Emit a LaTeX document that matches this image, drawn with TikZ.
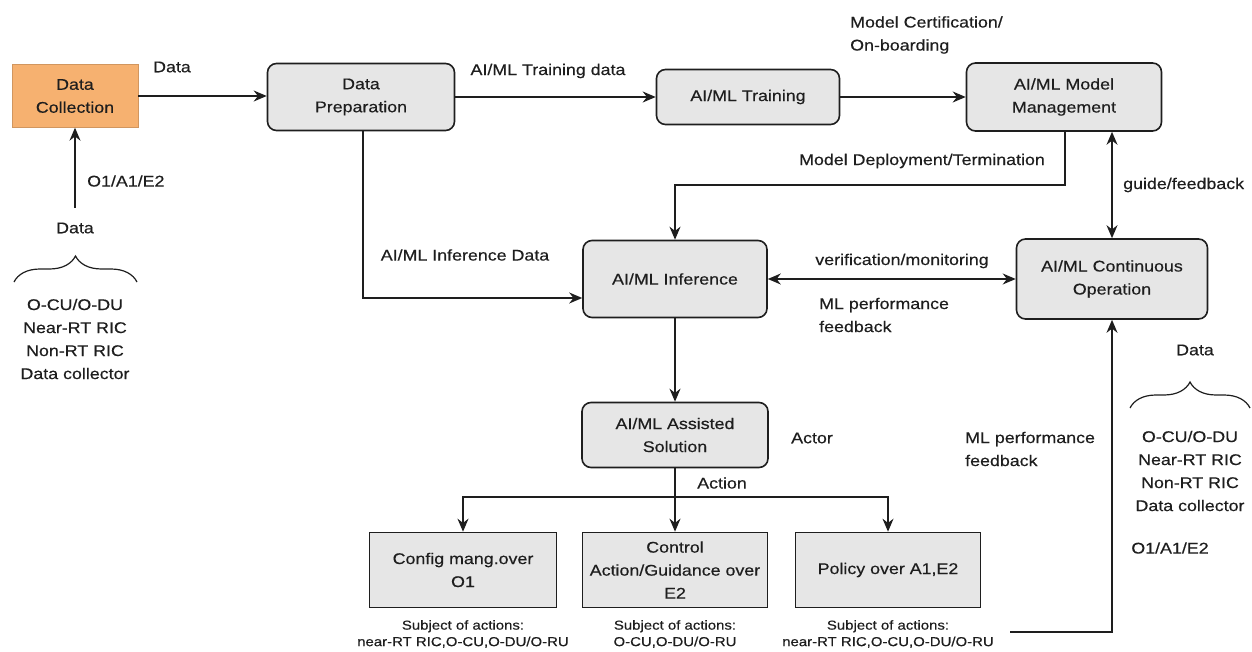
\documentclass[tikz,border=0pt]{standalone}
\usepackage{fontspec}
\setmainfont{Liberation Sans}[FakeStretch=1.15,FakeBold=0.4]
\usetikzlibrary{arrows.meta,decorations.pathreplacing}
\definecolor{ink}{HTML}{1E1E1E}
\definecolor{boxfill}{HTML}{E6E6E6}
\definecolor{orangefill}{HTML}{F6B170}
\begin{document}
\begin{tikzpicture}[x=1pt,y=-1pt,
  txt/.style={font=\fontsize{15.5}{23}\selectfont, text=ink},
  small/.style={font=\fontsize{13}{16.5}\selectfont, text=ink, align=center},
  rbox/.style={txt, draw=ink, line width=1.6pt, fill=boxfill, rounded corners=9pt,
     align=center, inner sep=0pt},
  sbox/.style={txt, draw=ink, line width=1.6pt, fill=boxfill, align=center, inner sep=0pt},
  arr/.style={draw=ink, line width=1.4pt, -{Stealth[length=13pt,width=11pt]}},
  biarr/.style={draw=ink, line width=1.4pt, {Stealth[length=13pt,width=11pt]}-{Stealth[length=13pt,width=11pt]}},
  line/.style={draw=ink, line width=1.4pt},
  lbl/.style={txt, inner sep=0pt},
  brc/.style={draw=ink, line width=1.2pt, decorate, decoration={brace, amplitude=26pt}}
]
\useasboundingbox (0,0) rectangle (1252,652);

% main blocks
\node[txt, fill=orangefill, draw=orangefill!85!black, line width=0.4pt, align=center,
      minimum width=126pt, minimum height=63pt, inner sep=0pt] (dc) at (75,96) {Data\\Collection};
\node[rbox, minimum width=187pt, minimum height=67pt] (dp) at (361,97) {Data\\Preparation};
\node[rbox, minimum width=183pt, minimum height=55pt] (tr) at (748,97) {AI/ML Training};
\node[rbox, minimum width=195pt, minimum height=68pt] (mm) at (1064,97) {AI/ML Model\\Management};
\node[rbox, minimum width=184pt, minimum height=77pt] (inf) at (675,279) {AI/ML Inference};
\node[rbox, minimum width=191pt, minimum height=80pt] (co) at (1112,279) {AI/ML Continuous\\Operation};
\node[rbox, minimum width=186pt, minimum height=65pt] (as) at (675,435) {AI/ML Assisted\\Solution};
\node[sbox, minimum width=187pt, minimum height=75pt] (cfg) at (463,570) {Config mang.over\\O1};
\node[sbox, minimum width=185pt, minimum height=75pt] (ctl) at (675,570) {Control\\Action/Guidance over\\E2};
\node[sbox, minimum width=185pt, minimum height=75pt] (pol) at (888,570) {Policy over A1,E2};

% connectors
\draw[arr] (dc.east) -- (dc.east -| dp.west);
\draw[arr] (dp.east) -- (dp.east -| tr.west);
\draw[arr] (tr.east) -- (tr.east -| mm.west);
\coordinate (mmturn) at (1065,185);
\draw[arr] (mm.south -| mmturn) -- (mmturn) -| (inf.north);
\coordinate (dpturn) at (363,298);
\draw[arr] (dp.south -| dpturn) -- (dpturn) -- (dpturn -| inf.west);
\draw[biarr] (inf.east) -- (inf.east -| co.west);
\draw[biarr] (co.north) -- (co.north |- mm.south);
\draw[arr] (inf.south) -- (as.north);
\coordinate (split) at (675,497);
\draw[line] (as.south) -- (split);
\draw[arr] (split) -| (cfg.north);
\draw[arr] (split) -- (ctl.north);
\draw[arr] (split) -| (pol.north);
\coordinate (fbstart) at (1010,632);
\draw[arr] (fbstart) -| (co.south);
\coordinate (srcL) at (75,208);
\draw[arr] (srcL) -- (dc.south);

% connector labels
\node[lbl] (lData) at (172,67) {Data};
\node[lbl] (lTrain) at (548,71) {AI/ML Training data};
\node[lbl, anchor=west, align=left] (lCert) at (850,35) {Model Certification/\\On-boarding};
\node[lbl] (lDeploy) at (922,161) {Model Deployment/Termination};
\node[lbl] (lInfData) at (465,255) {AI/ML Inference Data};
\node[lbl] (lVerif) at (902,261) {verification/monitoring};
\node[lbl, anchor=west, align=left] (lPerf) at (819,315) {ML performance\\feedback};
\node[lbl, anchor=west] (lGuide) at (1123,185) {guide/feedback};
\node[lbl] (lActor) at (812,438) {Actor};
\node[lbl] (lAction) at (722,483) {Action};
\node[lbl, anchor=west, align=left] (lPerf2) at (965,449) {ML performance\\feedback};
\node[lbl] (lO1R) at (1170,548) {O1/A1/E2};
\node[lbl, anchor=west] (lO1L) at (87,181) {O1/A1/E2};

% data sources, left
\node[lbl] (lDataL) at (75,228) {Data};
\draw[brc] (14,282) -- (137,282);
\node[txt, align=center, inner sep=0pt] (srcListL) at (75,339)
  {O-CU/O-DU\\Near-RT RIC\\Non-RT RIC\\Data collector};

% data sources, right
\node[lbl] (lDataR) at (1195,350) {Data};
\draw[brc] (1130,408) -- (1250,408);
\node[txt, align=center, inner sep=0pt] (srcListR) at (1190,471)
  {O-CU/O-DU\\Near-RT RIC\\Non-RT RIC\\Data collector};

% subjects of the actions
\node[small] (subCfg) at (463,634) {Subject of actions:\\near-RT RIC,O-CU,O-DU/O-RU};
\node[small] (subCtl) at (675,634) {Subject of actions:\\O-CU,O-DU/O-RU};
\node[small] (subPol) at (888,634) {Subject of actions:\\near-RT RIC,O-CU,O-DU/O-RU};
\end{tikzpicture}
\end{document}
